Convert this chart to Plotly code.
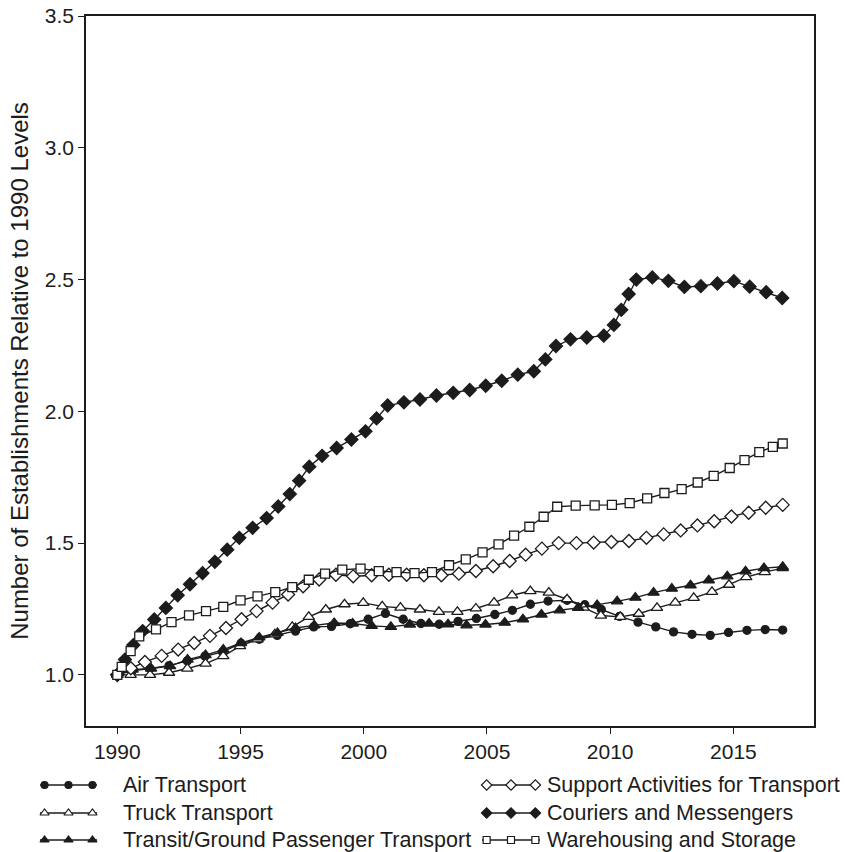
import plotly.graph_objects as go

# Establishment counts relative to 1990, by transportation industry
air_x = [1990.0, 1990.6, 1991.33, 1992.1, 1992.84, 1993.56, 1994.27, 1995.02, 1995.76, 1996.49,
         1997.23, 1997.97, 1998.69, 1999.45, 2000.18, 2000.88, 2001.6, 2002.32, 2003.06, 2003.83,
         2004.57, 2005.32, 2006.03, 2006.76, 2007.48, 2008.25, 2008.97, 2009.64, 2010.38, 2011.13,
         2011.85, 2012.57, 2013.32, 2014.06, 2014.8, 2015.55, 2016.29, 2017.0]
air_y = [1.0, 1.015, 1.024, 1.035, 1.053, 1.071, 1.087, 1.12, 1.135, 1.15,
         1.166, 1.182, 1.184, 1.194, 1.211, 1.233, 1.211, 1.195, 1.192, 1.203,
         1.214, 1.229, 1.245, 1.268, 1.28, 1.283, 1.266, 1.248, 1.222, 1.20,
         1.182, 1.163, 1.154, 1.15, 1.161, 1.169, 1.172, 1.17]

truck_x = [1990.0, 1990.54, 1991.33, 1992.1, 1992.84, 1993.58, 1994.3, 1994.98, 1995.69, 1996.39,
           1997.1, 1997.77, 1998.46, 1999.22, 1999.98, 2000.75, 2001.49, 2002.28, 2003.05, 2003.8,
           2004.55, 2005.29, 2006.02, 2006.76, 2007.51, 2008.25, 2008.92, 2009.62, 2010.41, 2011.16,
           2011.9, 2012.64, 2013.39, 2014.13, 2014.82, 2015.52, 2016.27, 2017.0]
truck_y = [1.0, 1.0, 1.0, 1.008, 1.024, 1.043, 1.071, 1.109, 1.135, 1.154,
           1.182, 1.22, 1.248, 1.268, 1.273, 1.26, 1.255, 1.248, 1.239, 1.239,
           1.252, 1.274, 1.302, 1.318, 1.312, 1.287, 1.255, 1.225, 1.22, 1.232,
           1.254, 1.274, 1.292, 1.315, 1.342, 1.371, 1.39, 1.405]

transit_x = [1990.0, 1990.62, 1991.37, 1992.14, 1992.85, 1993.58, 1994.3, 1995.02, 1995.76, 1996.5,
             1997.23, 1997.99, 1998.8, 1999.55, 2000.32, 2001.1, 2001.87, 2002.65, 2003.42, 2004.17,
             2004.94, 2005.72, 2006.46, 2007.21, 2007.95, 2008.7, 2009.47, 2010.28, 2011.02, 2011.76,
             2012.5, 2013.26, 2014.0, 2014.75, 2015.49, 2016.24, 2017.0]
transit_y = [1.0, 1.02, 1.024, 1.033, 1.058, 1.075, 1.096, 1.121, 1.142, 1.159,
             1.178, 1.188, 1.197, 1.195, 1.186, 1.182, 1.191, 1.195, 1.192, 1.188,
             1.191, 1.198, 1.211, 1.229, 1.245, 1.254, 1.265, 1.279, 1.293, 1.312,
             1.327, 1.34, 1.359, 1.374, 1.393, 1.405, 1.41]

support_x = [1990.0, 1990.55, 1991.12, 1991.8, 1992.47, 1993.12, 1993.76, 1994.41, 1995.04, 1995.65,
             1996.3, 1996.93, 1997.54, 1998.19, 1998.87, 1999.57, 2000.32, 2001.02, 2001.74, 2002.44,
             2003.15, 2003.86, 2004.55, 2005.25, 2005.92, 2006.57, 2007.23, 2007.91, 2008.63, 2009.33,
             2010.05, 2010.76, 2011.47, 2012.17, 2012.86, 2013.54, 2014.22, 2014.92, 2015.62, 2016.31,
             2017.0]
support_y = [1.0, 1.025, 1.049, 1.072, 1.096, 1.121, 1.148, 1.178, 1.211, 1.242,
             1.274, 1.305, 1.336, 1.362, 1.38, 1.374, 1.378, 1.38, 1.38, 1.378,
             1.378, 1.384, 1.394, 1.412, 1.432, 1.456, 1.479, 1.50, 1.50, 1.502,
             1.504, 1.508, 1.52, 1.533, 1.548, 1.567, 1.583, 1.601, 1.615, 1.634,
             1.645]

courier_x = [1990.0, 1990.31, 1990.65, 1991.03, 1991.5, 1991.97, 1992.45, 1992.95, 1993.46, 1993.96,
             1994.46, 1994.95, 1995.49, 1996.06, 1996.53, 1997.0, 1997.38, 1997.79, 1998.31, 1998.9,
             1999.5, 2000.07, 2000.52, 2000.97, 2001.63, 2002.28, 2002.95, 2003.63, 2004.3, 2004.95,
             2005.6, 2006.25, 2006.9, 2007.37, 2007.8, 2008.39, 2009.05, 2009.74, 2010.15, 2010.45,
             2010.75, 2011.06, 2011.71, 2012.36, 2013.01, 2013.68, 2014.35, 2015.02, 2015.66, 2016.33,
             2016.98]
courier_y = [1.0, 1.058, 1.113, 1.166, 1.21, 1.254, 1.302, 1.344, 1.386, 1.429,
             1.475, 1.52, 1.558, 1.595, 1.639, 1.686, 1.737, 1.79, 1.831, 1.861,
             1.893, 1.924, 1.973, 2.022, 2.034, 2.045, 2.06, 2.07, 2.081, 2.097,
             2.116, 2.139, 2.152, 2.197, 2.248, 2.273, 2.28, 2.287, 2.328, 2.385,
             2.445, 2.50, 2.508, 2.495, 2.472, 2.475, 2.485, 2.494, 2.473, 2.452,
             2.43]

warehouse_x = [1990.0, 1990.18, 1990.54, 1990.89, 1991.57, 1992.2, 1992.91, 1993.6, 1994.3, 1995.0,
               1995.69, 1996.41, 1997.1, 1997.77, 1998.43, 1999.13, 1999.87, 2000.61, 2001.33, 2002.06,
               2002.77, 2003.46, 2004.14, 2004.82, 2005.47, 2006.1, 2006.72, 2007.3, 2007.85, 2008.6,
               2009.37, 2010.07, 2010.79, 2011.5, 2012.2, 2012.9, 2013.55, 2014.2, 2014.85, 2015.45,
               2016.05, 2016.6, 2017.0]
warehouse_y = [1.0, 1.03, 1.09, 1.146, 1.173, 1.20, 1.226, 1.242, 1.258, 1.283,
               1.298, 1.314, 1.333, 1.361, 1.384, 1.399, 1.403, 1.394, 1.39, 1.386,
               1.39, 1.416, 1.438, 1.465, 1.495, 1.528, 1.562, 1.60, 1.638, 1.642,
               1.643, 1.645, 1.652, 1.67, 1.69, 1.705, 1.73, 1.755, 1.785, 1.815,
               1.845, 1.865, 1.878]

x_ticks = [1990, 1995, 2000, 2005, 2010, 2015]
y_ticks = [1.0, 1.5, 2.0, 2.5, 3.0, 3.5]

INK = "#1c1c1c"
FONT = "Liberation Sans, Arial, sans-serif"

# name, x, y, marker symbol, fill, marker size
series = [
    ("Air Transport", air_x, air_y, "circle", INK, 8),
    ("Truck Transport", truck_x, truck_y, "triangle-up", "white", 10),
    ("Transit/Ground Passenger Transport", transit_x, transit_y, "triangle-up", INK, 10),
    ("Support Activities for Transport", support_x, support_y, "diamond", "white", 10),
    ("Couriers and Messengers", courier_x, courier_y, "diamond", INK, 10),
    ("Warehousing and Storage", warehouse_x, warehouse_y, "square", "white", 9),
]

fig = go.Figure()
for name, xs, ys, sym, fill, size in series:
    fig.add_trace(go.Scatter(
        x=xs, y=ys, name=name, mode="lines+markers",
        line=dict(color=INK, width=1.4),
        marker=dict(symbol=sym, size=size, color=fill, line=dict(color=INK, width=1.3)),
        xaxis="x", yaxis="y", showlegend=False,
    ))

# Two-column key drawn below the plot on a pixel-scaled helper axis
key_left = [("Air Transport", "circle", INK, 7), ("Truck Transport", "triangle-up", "white", 8),
            ("Transit/Ground Passenger Transport", "triangle-up", INK, 8)]
key_right = [("Support Activities for Transport", "diamond", "white", 8),
             ("Couriers and Messengers", "diamond", INK, 8),
             ("Warehousing and Storage", "square", "white", 7)]
rows = [785, 813, 840]
columns = [(40, 57, 121, key_left), (482, 58, 545, key_right)]
annotations = []
for x0, span, text_x, entries in columns:
    marks = [x0 + span * 0.08, x0 + span * 0.5, x0 + span * 0.92]
    for row_y, (label, sym, fill, size) in zip(rows, entries):
        fig.add_trace(go.Scatter(
            x=[x0, x0 + span], y=[row_y, row_y],
            mode="lines", line=dict(color=INK, width=1.3),
            xaxis="x2", yaxis="y2", showlegend=False, hoverinfo="skip",
        ))
        fig.add_trace(go.Scatter(
            x=marks, y=[row_y] * 3, mode="markers",
            marker=dict(symbol=sym, size=size, color=fill, line=dict(color=INK, width=1.2)),
            xaxis="x2", yaxis="y2", showlegend=False, hoverinfo="skip",
        ))
        annotations.append(dict(
            x=text_x, y=row_y, xref="x2", yref="y2", text=label,
            showarrow=False, xanchor="left", yanchor="middle",
            font=dict(family=FONT, size=21.5, color=INK),
        ))

W, H = 845, 852
top, bottom = 16, 0
plot_h = H - top - bottom
axis_bottom_px = 726

fig.update_layout(
    width=W, height=H,
    margin=dict(l=0, r=0, t=top, b=bottom),
    paper_bgcolor="white", plot_bgcolor="white",
    font=dict(family=FONT, size=21, color=INK),
    showlegend=False,
    annotations=annotations,
    xaxis=dict(
        domain=[86 / W, 814 / W], range=[1988.73, 2018.27],
        tickmode="array", tickvals=x_ticks, ticktext=[str(t) for t in x_ticks],
        ticks="outside", ticklen=6, tickwidth=1.4, tickcolor=INK,
        showline=True, linecolor=INK, linewidth=1.6, mirror=True,
        showgrid=False, zeroline=False, anchor="y",
        tickfont=dict(family=FONT, size=21, color=INK),
    ),
    yaxis=dict(
        domain=[(H - bottom - axis_bottom_px) / plot_h, 1], range=[0.806, 3.5],
        tickmode="array", tickvals=y_ticks, ticktext=[f"{t:.1f}" for t in y_ticks],
        ticks="outside", ticklen=6, tickwidth=1.4, tickcolor=INK,
        showline=True, linecolor=INK, linewidth=1.6, mirror=True,
        showgrid=False, zeroline=False, anchor="x",
        tickfont=dict(family=FONT, size=21, color=INK),
        title=dict(text="Number of Establishments Relative to 1990 Levels",
                   font=dict(family=FONT, size=24, color=INK), standoff=9),
    ),
    xaxis2=dict(domain=[0, 1], range=[0, W], visible=False, anchor="y2", fixedrange=True),
    yaxis2=dict(domain=[0, (H - bottom - 770) / plot_h], range=[H - bottom, 770],
                visible=False, anchor="x2", fixedrange=True),
)

fig.write_html("out.html")
